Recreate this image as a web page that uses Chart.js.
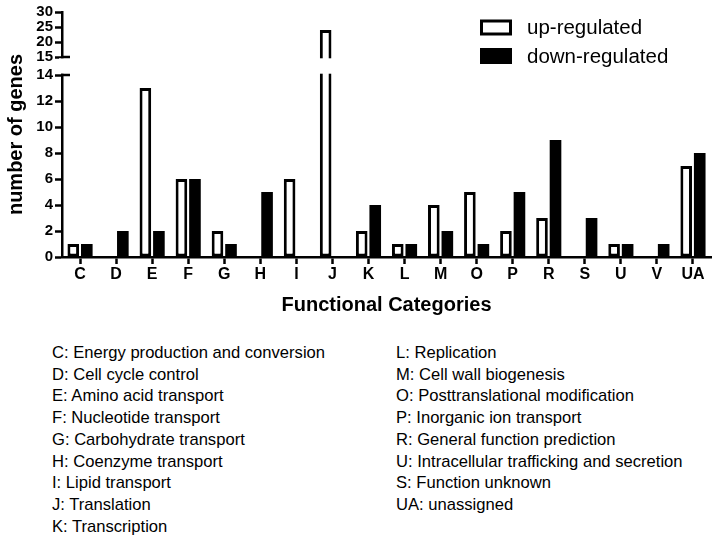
<!DOCTYPE html>
<html>
<head>
<meta charset="utf-8">
<script src="https://cdn.jsdelivr.net/npm/chart.js@4/dist/chart.umd.min.js"></script>
<style>
  body { margin: 0; background: #fff; font-family: Arial, "Liberation Sans", sans-serif; }
  #wrap { position: absolute; left: 0; top: 0; width: 721px; height: 330px; }
  .notes { position: absolute; top: 342px; font-size: 16.6px; line-height: 21.7px; color: #000; white-space: nowrap; }
</style>
</head>
<body>
<div id="wrap"><canvas id="cogChart"></canvas></div>
<div class="notes" id="notesLeft" style="left:52px"></div>
<div class="notes" id="notesRight" style="left:396px"></div>

<script>
// data
const categories = ["C", "D", "E", "F", "G", "H", "I", "J", "K", "L", "M", "O", "P", "R", "S", "U", "V", "UA"];
const upRegulated   = [1, 0, 13, 6, 2, 0, 6, 24, 2, 1, 4, 5, 2, 3, 0, 1, 0, 7];
const downRegulated = [1, 2, 2, 6, 1, 5, 0, 0, 4, 1, 2, 1, 5, 9, 3, 1, 1, 8];
const yTicks = [0, 2, 4, 6, 8, 10, 12, 14, 15, 20, 25, 30];

const notesLeft = [
  "C: Energy production and conversion",
  "D: Cell cycle control",
  "E: Amino acid transport",
  "F: Nucleotide transport",
  "G: Carbohydrate transport",
  "H: Coenzyme transport",
  "I: Lipid transport",
  "J: Translation",
  "K: Transcription"
];
const notesRight = [
  "L: Replication",
  "M: Cell wall biogenesis",
  "O: Posttranslational modification",
  "P: Inorganic ion transport",
  "R: General function prediction",
  "U: Intracellular trafficking and secretion",
  "S: Function unknown",
  "UA: unassigned"
];

document.getElementById("notesLeft").innerHTML = notesLeft.map(t => `<div>${t}</div>`).join("");
document.getElementById("notesRight").innerHTML = notesRight.map(t => `<div>${t}</div>`).join("");

// axis break: 0-14 lower part, 15-30 upper part
const BREAK_LO = 14, BREAK_HI = 15;
const LOW_FRAC = 182 / 245, UP_FRAC = 45 / 245;

class BrokenScale extends Chart.LinearScale {
  static id = "broken";
  static defaults = Chart.LinearScale.defaults;

  getPixelForValue(v) {
    const h = this.bottom - this.top;
    const lowH = h * LOW_FRAC, upH = h * UP_FRAC;
    if (v <= BREAK_LO) return this.bottom - v / BREAK_LO * lowH;
    if (v >= BREAK_HI) return this.top + (this.max - v) / (this.max - BREAK_HI) * upH;
    const gapTop = this.top + upH, gapBottom = this.bottom - lowH;
    return gapBottom - (v - BREAK_LO) / (BREAK_HI - BREAK_LO) * (gapBottom - gapTop);
  }

  getValueForPixel(p) {
    const h = this.bottom - this.top;
    const lowH = h * LOW_FRAC, upH = h * UP_FRAC;
    const gapTop = this.top + upH, gapBottom = this.bottom - lowH;
    if (p >= gapBottom) return (this.bottom - p) / lowH * BREAK_LO;
    if (p <= gapTop) return this.max - (p - this.top) / upH * (this.max - BREAK_HI);
    return BREAK_LO + (gapBottom - p) / (gapBottom - gapTop) * (BREAK_HI - BREAK_LO);
  }
}
Chart.register(BrokenScale);

// white gap + small break marks on the y axis
const axisBreak = {
  id: "axisBreak",
  afterDatasetsDraw(chart) {
    const { ctx, chartArea } = chart;
    const y = chart.scales.y;
    const p15 = y.getPixelForValue(BREAK_HI);
    const p14 = y.getPixelForValue(BREAK_LO);
    ctx.save();
    ctx.fillStyle = "#fff";
    ctx.fillRect(chartArea.left - 3, p15 + 1.3, chartArea.right - chartArea.left + 3, p14 - p15 - 2.6);
    ctx.strokeStyle = "#000";
    ctx.lineWidth = 2.5;
    [p14, p15].forEach(p => {
      ctx.beginPath();
      ctx.moveTo(chartArea.left - 1, p);
      ctx.lineTo(chartArea.left + 8, p);
      ctx.stroke();
    });
    ctx.restore();
  }
};

// legend in the top right corner, two rows
const cornerLegend = {
  id: "cornerLegend",
  afterDraw(chart) {
    const ctx = chart.ctx;
    const rows = [27.5, 56];
    ctx.save();
    ctx.font = "20.5px Arial, 'Liberation Sans', sans-serif";
    ctx.textBaseline = "middle";
    chart.data.datasets.forEach((ds, i) => {
      const cy = rows[i];
      ctx.fillStyle = ds.backgroundColor;
      ctx.fillRect(480, cy - 8, 32, 16);
      if (ds.borderWidth) {
        ctx.strokeStyle = "#000";
        ctx.lineWidth = 3;
        ctx.strokeRect(481.5, cy - 6.5, 29, 13);
      }
      ctx.fillStyle = "#000";
      ctx.fillText(ds.label, 527, cy + 1);
    });
    ctx.restore();
  }
};

Chart.defaults.font.family = "Arial, 'Liberation Sans', sans-serif";
Chart.defaults.color = "#000";

new Chart(document.getElementById("cogChart"), {
  type: "bar",
  data: {
    labels: categories,
    datasets: [
      {
        label: "up-regulated",
        data: upRegulated,
        backgroundColor: "#fff",
        borderColor: "#000",
        borderWidth: 3,
        borderSkipped: false
      },
      {
        label: "down-regulated",
        data: downRegulated,
        backgroundColor: "#000",
        borderWidth: 0
      }
    ]
  },
  options: {
    responsive: true,
    maintainAspectRatio: false,
    animation: false,
    categoryPercentage: 0.75,
    barPercentage: 0.86,
    layout: { padding: { top: 12, right: 10, bottom: 13, left: 0 } },
    plugins: { legend: { display: false }, tooltip: { enabled: false } },
    scales: {
      x: {
        grid: { display: true, drawOnChartArea: false, offset: false, tickLength: 7, tickWidth: 2.5, tickColor: "#000" },
        border: { display: true, color: "#000", width: 2.5 },
        ticks: { font: { size: 16, weight: "bold" }, padding: 1, maxRotation: 0, autoSkip: false },
        title: { display: true, text: "Functional Categories", font: { size: 20, weight: "bold" }, padding: { top: 0, bottom: 0 } },
        afterFit: s => { s.height = 60; }
      },
      y: {
        type: "broken",
        min: 0,
        max: 30,
        afterBuildTicks: s => { s.ticks = yTicks.map(v => ({ value: v })); },
        grid: { display: true, drawOnChartArea: false, tickLength: 7, tickWidth: 2.5, tickColor: "#000" },
        border: { display: true, color: "#000", width: 2.5 },
        ticks: { font: { size: 15, weight: "bold" }, padding: 2, autoSkip: false, callback: v => String(v) },
        title: { display: true, text: "number of genes", font: { size: 20, weight: "bold" }, padding: { top: 4, bottom: 0 } },
        afterFit: s => { s.width = 62; }
      }
    }
  },
  plugins: [axisBreak, cornerLegend]
});
</script>
</body>
</html>
